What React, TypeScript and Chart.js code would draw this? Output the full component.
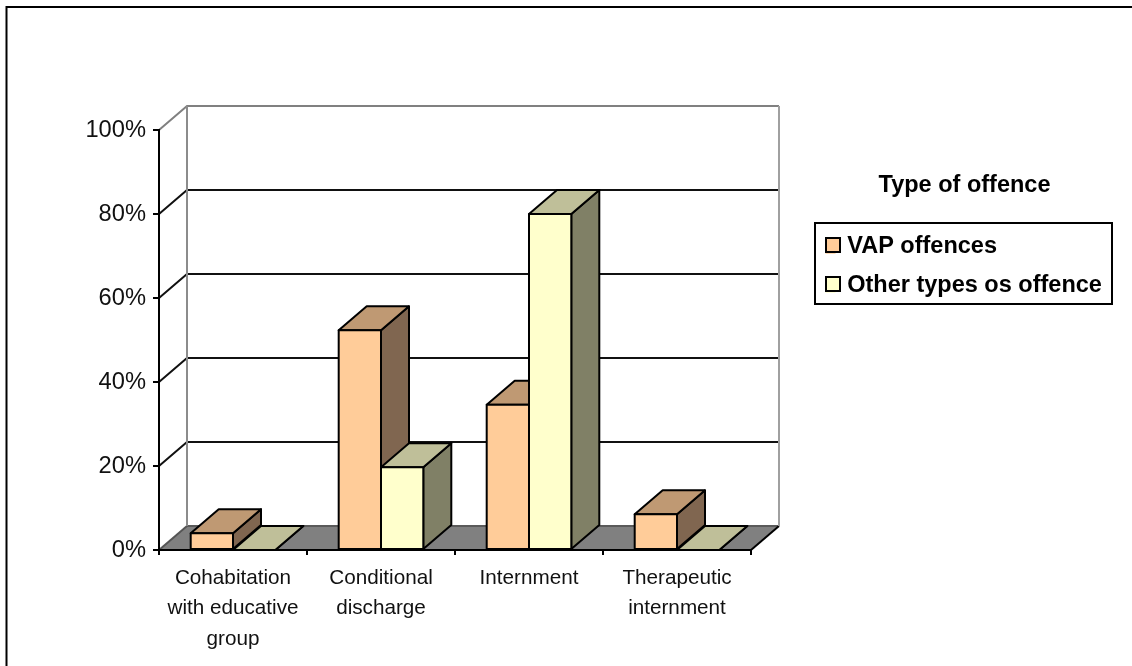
import React, { useEffect, useRef } from "react";
import { Chart, registerables } from "chart.js";

Chart.register(...registerables);

const categories = [
  ["Cohabitation", "with educative", "group"],
  ["Conditional", "discharge"],
  ["Internment"],
  ["Therapeutic", "internment"],
];
const seriesNames = ["VAP offences", "Other types os offence"];
const vapValues = [4, 52.3, 34.6, 8.5];
const otherValues = [0, 19.7, 80, 0];
const yTicks = [0, 20, 40, 60, 80, 100];

const FONT = "'Liberation Sans', Arial, sans-serif";
const DX = 28;
const DY = -24;
const palette = [
  { front: "#FFCC99", top: "#BF9973", side: "#806650" },
  { front: "#FFFFCC", top: "#BFBF99", side: "#808066" },
];

function line(ctx: CanvasRenderingContext2D, pts: number[][], color: string, w = 2) {
  ctx.beginPath();
  pts.forEach((p, i) => (i ? ctx.lineTo(p[0], p[1]) : ctx.moveTo(p[0], p[1])));
  ctx.strokeStyle = color;
  ctx.lineWidth = w;
  ctx.lineJoin = "miter";
  ctx.stroke();
}

function poly(ctx: CanvasRenderingContext2D, pts: number[][], fill: string, stroke?: string) {
  ctx.beginPath();
  pts.forEach((p, i) => (i ? ctx.lineTo(p[0], p[1]) : ctx.moveTo(p[0], p[1])));
  ctx.closePath();
  ctx.fillStyle = fill;
  ctx.fill();
  if (stroke) {
    ctx.strokeStyle = stroke;
    ctx.lineWidth = 2;
    ctx.lineJoin = "round";
    ctx.stroke();
  }
}

const scene3d = {
  id: "scene3d",
  afterLayout(chart: any) {
    const lg = chart.legend;
    lg.left = 810;
    lg.top = 173.5;
    lg.width = 309;
    lg.right = 1119;
    lg.height = 140;
    lg.bottom = 313.5;
  },
  beforeDraw(chart: any) {
    const ctx: CanvasRenderingContext2D = chart.ctx;
    const { left, right, top, bottom } = chart.chartArea;
    const y = chart.scales.y;
    ctx.save();
    // outer frame
    line(ctx, [[6.5, 666], [6.5, 7], [1132, 7]], "#000");
    // legend frame
    ctx.strokeStyle = "#000";
    ctx.lineWidth = 2;
    ctx.strokeRect(815, 223, 297, 81);
    // floor
    poly(ctx, [[left, bottom], [right, bottom], [right + DX, bottom + DY], [left + DX, bottom + DY]], "#808080");
    line(ctx, [[left + DX, bottom + DY], [right + DX, bottom + DY]], "#5a5a5a");
    line(ctx, [[right, bottom], [right + DX, bottom + DY]], "#000");
    // walls and grid
    yTicks.forEach((v) => {
      const p = y.getPixelForValue(v);
      if (v === 0) {
        line(ctx, [[left, p], [left + DX, p + DY]], "#555");
      } else if (v === 100) {
        line(ctx, [[left, p], [left + DX, p + DY], [right + DX, p + DY]], "#808080");
      } else {
        line(ctx, [[left, p], [left + DX, p + DY], [right + DX, p + DY]], "#111");
      }
    });
    line(ctx, [[left + DX, top + DY], [left + DX, bottom + DY]], "#8c8c8c");
    line(ctx, [[right + DX, top + DY], [right + DX, bottom + DY]], "#a0a0a0");
    ctx.restore();
  },
  beforeDatasetsDraw(chart: any) {
    const ctx: CanvasRenderingContext2D = chart.ctx;
    ctx.save();
    // category by category, first series behind the second one
    [0, 1].forEach((di) => {
      const meta = chart.getDatasetMeta(di);
      const colors = palette[di];
      meta.data.forEach((bar: any) => {
        const { x, y, base, width } = bar.getProps(["x", "y", "base", "width"], true);
        const l = x - width / 2;
        const r = x + width / 2;
        poly(ctx, [[r, y], [r + DX, y + DY], [r + DX, base + DY], [r, base]], colors.side, "#000");
        poly(ctx, [[l, y], [r, y], [r + DX, y + DY], [l + DX, y + DY]], colors.top, "#000");
        bar.draw(ctx);
        if (base - y > 0.5) {
          ctx.strokeStyle = "#000";
          ctx.lineWidth = 2;
          ctx.strokeRect(l, y, width, base - y);
        }
      });
    });
    ctx.restore();
    return false;
  },
  afterDraw(chart: any) {
    const ctx: CanvasRenderingContext2D = chart.ctx;
    ctx.save();
    [245, 284].forEach((cy, i) => {
      ctx.fillStyle = palette[i].front;
      ctx.strokeStyle = "#000";
      ctx.lineWidth = 2;
      ctx.fillRect(826, cy - 7, 14, 14);
      ctx.strokeRect(826, cy - 7, 14, 14);
    });
    ctx.restore();
  },
};

export default function App() {
  const ref = useRef<HTMLCanvasElement>(null);
  useEffect(() => {
    document.body.style.margin = "0";
    const chart = new Chart(ref.current!, {
      type: "bar",
      plugins: [scene3d],
      data: {
        labels: categories as any,
        datasets: [
          { label: seriesNames[0], data: vapValues, backgroundColor: palette[0].front, borderWidth: 0 },
          { label: seriesNames[1], data: otherValues, backgroundColor: palette[1].front, borderWidth: 0 },
        ],
      },
      options: {
        animation: false,
        responsive: false,
        devicePixelRatio: 1,
        layout: { padding: { top: 130, right: 381, left: 0, bottom: 0 } },
        datasets: { bar: { categoryPercentage: 0.5716, barPercentage: 1 } },
        scales: {
          x: {
            afterFit(s: any) { s.height = 116; },
            grid: { drawOnChartArea: false, drawTicks: true, tickLength: 5, color: "#000", lineWidth: 2 },
            border: { display: true, color: "#000", width: 2 },
            ticks: {
              color: "#111",
              maxRotation: 0,
              minRotation: 0,
              autoSkip: false,
              padding: 8,
              font: { family: FONT, size: 20.7, lineHeight: 1.47 },
            },
          },
          y: {
            min: 0,
            max: 100,
            afterFit(s: any) { s.width = 159; },
            afterBuildTicks(s: any) { s.ticks = yTicks.map((value) => ({ value })); },
            grid: { drawOnChartArea: false, drawTicks: true, tickLength: 6, color: "#000", lineWidth: 2 },
            border: { display: true, color: "#000", width: 2 },
            ticks: {
              color: "#111",
              padding: 7,
              callback: (v: any) => `${v}%`,
              font: { family: FONT, size: 23.7 },
            },
          },
        },
        plugins: {
          tooltip: { enabled: false },
          legend: {
            position: "chartArea",
            align: "start",
            title: {
              display: true,
              text: "Type of offence",
              color: "#000",
              position: "center",
              padding: { top: 0, bottom: 17.8 },
              font: { family: FONT, size: 23.5, weight: "bold" },
            },
            labels: {
              color: "#000",
              boxWidth: 10,
              boxHeight: 14,
              padding: 15.5,
              font: { family: FONT, size: 23.5, weight: "bold" },
            },
          },
        },
      } as any,
    });
    return () => chart.destroy();
  }, []);
  return <canvas ref={ref} width={1132} height={666} style={{ display: "block", width: 1132, height: 666 }} />;
}
